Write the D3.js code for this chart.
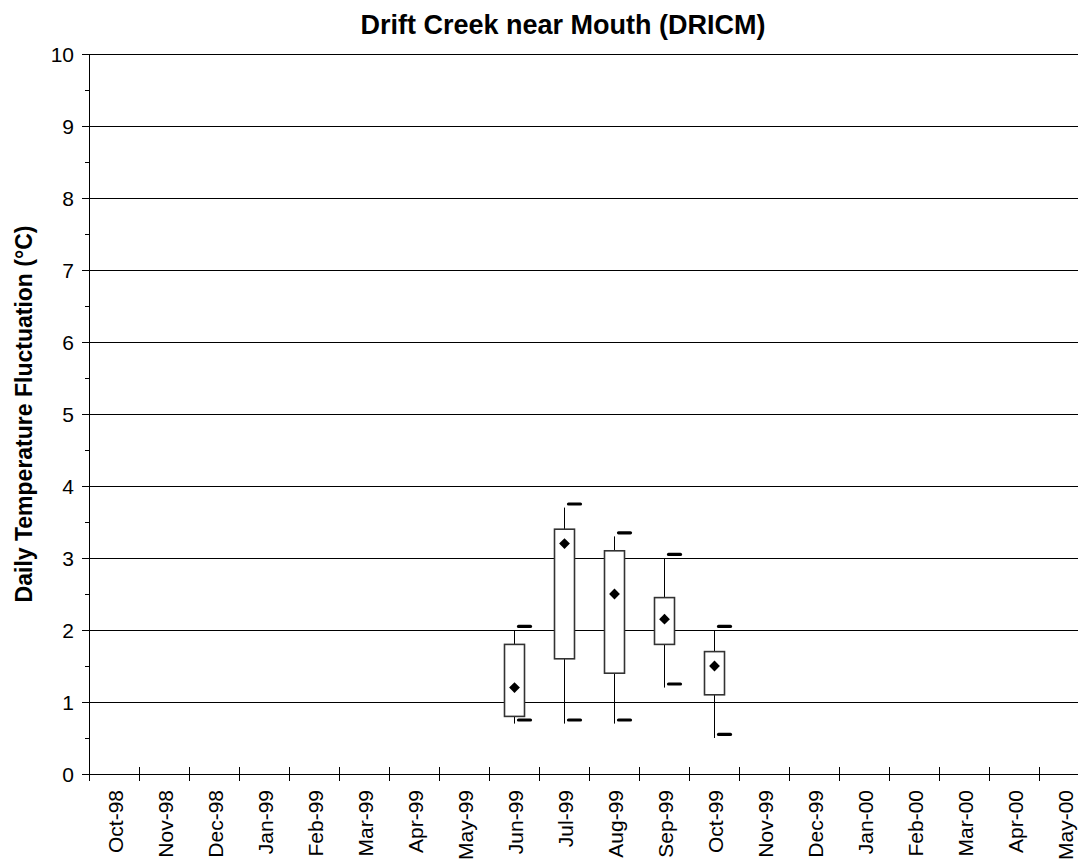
<!DOCTYPE html>
<html>
<head>
<meta charset="utf-8">
<script src="https://cdn.jsdelivr.net/npm/d3@7"></script>
<style>
  html, body { margin: 0; padding: 0; background: #fff; }
  svg { display: block; }
</style>
</head>
<body>
<svg id="chart" width="1078" height="866"></svg>
<script>
// ---- data ----
const months = ["Oct-98","Nov-98","Dec-98","Jan-99","Feb-99","Mar-99","Apr-99","May-99",
  "Jun-99","Jul-99","Aug-99","Sep-99","Oct-99","Nov-99","Dec-99","Jan-00","Feb-00",
  "Mar-00","Apr-00","May-00"];
const boxMonths = ["Jun-99","Jul-99","Aug-99","Sep-99","Oct-99"];
const whiskerMin = [0.7, 0.7, 0.7, 1.2, 0.5];
const boxLow     = [0.8, 1.6, 1.4, 1.8, 1.1];
const boxHigh    = [1.8, 3.4, 3.1, 2.45, 1.7];
const whiskerMax = [2.0, 3.7, 3.3, 3.0, 2.0];
const meanValue  = [1.2, 3.2, 2.5, 2.15, 1.5];
const markHigh   = [2.05, 3.75, 3.35, 3.05, 2.05];
const markLow    = [0.75, 0.75, 0.75, 1.25, 0.55];
const yTicks = [0,1,2,3,4,5,6,7,8,9,10];
const yMinorTicks = [0.5,1.5,2.5,3.5,4.5,5.5,6.5,7.5,8.5,9.5];
const titleText = "Drift Creek near Mouth (DRICM)";
const yLabelText = "Daily Temperature Fluctuation (°C)";

// ---- layout ----
const svg = d3.select("#chart");
const pLeft = 90, pRight = 1090, pTop = 54, pBottom = 774;
const font = "'Liberation Sans', Arial, Helvetica, sans-serif";

const x = d3.scaleBand().domain(months).range([pLeft, pRight]).padding(0);
const y = d3.scaleLinear().domain([0, 10]).range([pBottom, pTop]);

// square diamond symbol
const squareDiamond = {
  draw(ctx, size) {
    const r = Math.sqrt(size / 2);
    ctx.moveTo(0, -r); ctx.lineTo(r, 0); ctx.lineTo(0, r); ctx.lineTo(-r, 0); ctx.closePath();
  }
};

// gridlines
svg.append("g").selectAll("line").data(yTicks.filter(d => d > 0)).join("line")
  .attr("x1", pLeft).attr("x2", 1078)
  .attr("y1", d => Math.round(y(d)) + 0.5).attr("y2", d => Math.round(y(d)) + 0.5)
  .attr("stroke", "#000").attr("stroke-width", 1);

// y axis
const yAxis = svg.append("g");
yAxis.append("line").attr("x1", pLeft - 0.5).attr("x2", pLeft - 0.5)
  .attr("y1", pTop).attr("y2", pBottom + 0.5).attr("stroke", "#000");
yAxis.selectAll("line.maj").data(yTicks).join("line").attr("class","maj")
  .attr("x1", pLeft - 8).attr("x2", pLeft)
  .attr("y1", d => Math.round(y(d)) + 0.5).attr("y2", d => Math.round(y(d)) + 0.5)
  .attr("stroke", "#000");
yAxis.selectAll("line.min").data(yMinorTicks).join("line").attr("class","min")
  .attr("x1", pLeft - 5).attr("x2", pLeft)
  .attr("y1", d => Math.round(y(d)) + 0.5).attr("y2", d => Math.round(y(d)) + 0.5)
  .attr("stroke", "#000");
yAxis.selectAll("text").data(yTicks).join("text")
  .attr("x", 74).attr("y", d => y(d)).attr("dy", "0.36em")
  .attr("text-anchor", "end").attr("font-family", font).attr("font-size", 21)
  .text(d => d);

// x axis
const xAxis = svg.append("g");
xAxis.append("line").attr("x1", pLeft - 0.5).attr("x2", 1078)
  .attr("y1", pBottom + 0.5).attr("y2", pBottom + 0.5).attr("stroke", "#000");
xAxis.selectAll("line.tk").data(months).join("line").attr("class","tk")
  .attr("x1", d => Math.round(x(d)) - 0.5).attr("x2", d => Math.round(x(d)) - 0.5)
  .attr("y1", pBottom - 7).attr("y2", pBottom + 7).attr("stroke", "#000");
xAxis.selectAll("text").data(months).join("text")
  .attr("transform", d => `translate(${x(d) + x.bandwidth()/2},${pBottom + 16}) rotate(-90)`)
  .attr("dy", "0.36em")
  .attr("text-anchor", "end").attr("font-family", font).attr("font-size", 21)
  .text(d => d);

// boxes
const boxes = svg.append("g");
const bw = 20;
boxMonths.forEach((m, i) => {
  const cx = x(m) + x.bandwidth()/2 - 0.5;
  boxes.append("line")
    .attr("x1", cx).attr("x2", cx)
    .attr("y1", y(whiskerMax[i])).attr("y2", y(whiskerMin[i]))
    .attr("stroke", "#000").attr("stroke-width", 1);
  boxes.append("rect")
    .attr("x", cx - bw/2).attr("y", y(boxHigh[i]))
    .attr("width", bw).attr("height", y(boxLow[i]) - y(boxHigh[i]))
    .attr("fill", "#fff").attr("stroke", "#333").attr("stroke-width", 1.6);
  boxes.append("path")
    .attr("d", d3.symbol().type(squareDiamond).size(58)())
    .attr("transform", `translate(${cx},${y(meanValue[i])})`)
    .attr("fill", "#000");
  [markHigh[i], markLow[i]].forEach(v => {
    boxes.append("line")
      .attr("x1", cx + 4).attr("x2", cx + 16)
      .attr("y1", y(v)).attr("y2", y(v))
      .attr("stroke", "#000").attr("stroke-width", 3.2).attr("stroke-linecap", "round");
  });
});

// title
svg.append("text").attr("x", 563).attr("y", 34)
  .attr("text-anchor", "middle").attr("font-family", font).attr("font-weight", "bold")
  .attr("font-size", 27).text(titleText);

// y label
svg.append("text")
  .attr("transform", `translate(32,${(pTop+pBottom)/2}) rotate(-90)`)
  .attr("text-anchor", "middle").attr("font-family", font).attr("font-weight", "bold")
  .attr("font-size", 23).text(yLabelText);
</script>
</body>
</html>
